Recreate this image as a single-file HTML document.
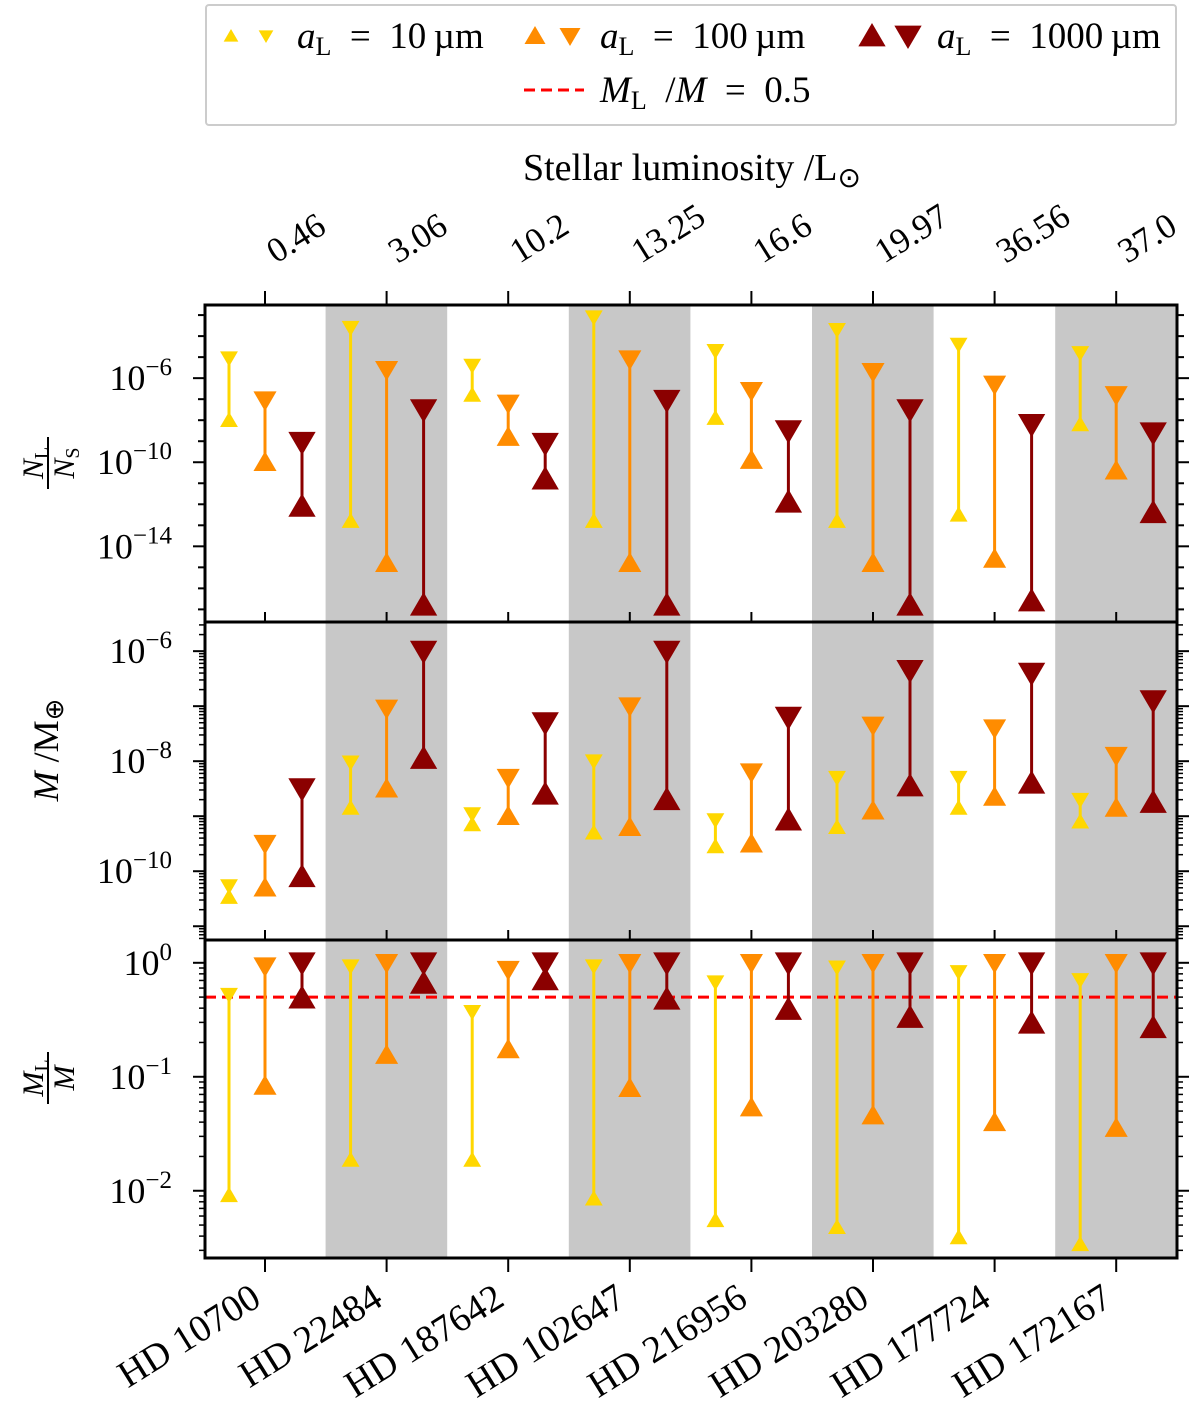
<!DOCTYPE html>
<html><head><meta charset="utf-8"><style>
body{margin:0;background:#fff}
svg{display:block;font-family:"Liberation Serif",serif}
</style></head><body>
<svg id="chart" width="1200" height="1412" viewBox="0 0 1200 1412" xmlns="http://www.w3.org/2000/svg"></svg>
<script>
const stars=["HD 10700","HD 22484","HD 187642","HD 102647","HD 216956","HD 203280","HD 177724","HD 172167"];
const lumLabels=["0.46","3.06","10.2","13.25","16.6","19.97","36.56","37.0"];
// log10 exponents: [lower, upper] per star
const nY_lo=[-8.0,-12.8,-6.8,-12.8,-7.9,-12.8,-12.5,-8.2];
const nY_hi=[-5.05,-3.6,-5.4,-3.1,-4.7,-3.7,-4.4,-4.8];
const nO_lo=[-10.0,-14.8,-8.8,-14.8,-9.9,-14.8,-14.6,-10.4];
const nO_hi=[-7.05,-5.6,-7.2,-5.1,-6.6,-5.7,-6.3,-6.8];
const nD_lo=[-12.1,-16.8,-10.8,-16.8,-11.9,-16.8,-16.6,-12.4];
const nD_hi=[-9.05,-7.5,-9.1,-7.05,-8.5,-7.5,-8.2,-8.6];
const mY_lo=[-10.47,-8.85,-9.15,-9.3,-9.55,-9.2,-8.85,-9.1];
const mY_hi=[-10.27,-8.02,-8.96,-8.0,-9.07,-8.3,-8.3,-8.7];
const mO_lo=[-10.3,-8.5,-9.0,-9.2,-9.5,-8.9,-8.65,-8.85];
const mO_hi=[-9.5,-7.04,-8.3,-7.0,-8.2,-7.35,-7.4,-7.9];
const mD_lo=[-10.1,-7.95,-8.6,-8.7,-9.07,-8.45,-8.4,-8.75];
const mD_hi=[-8.5,-6.0,-7.3,-6.0,-7.2,-6.35,-6.4,-6.9];
const fY_lo=[-2.04,-1.73,-1.73,-2.07,-2.26,-2.32,-2.41,-2.47];
const fY_hi=[-0.28,-0.03,-0.43,-0.03,-0.17,-0.04,-0.08,-0.15];
const fO_lo=[-1.08,-0.81,-0.76,-1.1,-1.27,-1.34,-1.4,-1.45];
const fO_hi=[-0.03,0,-0.06,0,0,0,0,0];
const fD_lo=[-0.31,-0.18,-0.15,-0.32,-0.41,-0.48,-0.53,-0.57];
const fD_hi=[0,0,0,0,0,0,0,0];
const threshold=0.5;

const S=document.getElementById('chart');const NS="http://www.w3.org/2000/svg";
function mk(t,a,p){const e=document.createElementNS(NS,t);for(const k in a)e.setAttribute(k,a[k]);(p||S).appendChild(e);return e;}
const X0=205,X1=1177;
const xc=i=>265+i*121.6;
const panels=[
 {t:305,b:622,top:-2.52,bot:-17.6,name:'number-ratio'},
 {t:622,b:940,top:-5.47,bot:-11.25,name:'mass'},
 {t:940,b:1258,top:0.2,bot:-2.59,name:'mass-fraction'}];
panels.forEach(p=>{p.y=e=>p.t+(p.top-e)/(p.top-p.bot)*(p.b-p.t);});
panels.forEach(p=>{for(let i=1;i<8;i+=2){const r=mk('rect',{x:xc(i)-61,y:p.t,width:121.6,height:p.b-p.t,fill:'#c8c8c8'});
}});
{const p=panels[2];const l=mk('line',{x1:X0,x2:X1,y1:p.y(Math.log10(threshold)),y2:p.y(Math.log10(threshold)),stroke:'#f00','stroke-width':3,'stroke-dasharray':'11,6'});
}
const cols=['#FFD700','#FF8C00','#8B0000'];const sz=[8.5,11,13];const off=[-36,0,37];const lw=[3,3,3];
const sets=[[[nY_lo,nY_hi],[nO_lo,nO_hi],[nD_lo,nD_hi]],[[mY_lo,mY_hi],[mO_lo,mO_hi],[mD_lo,mD_hi]],[[fY_lo,fY_hi],[fO_lo,fO_hi],[fD_lo,fD_hi]]];
sets.forEach((ps,pi)=>{const p=panels[pi];ps.forEach((s,si)=>{const [lo,hi]=s;const c=cols[si],r=sz[si];
for(let i=0;i<8;i++){const x=xc(i)+off[si];const y1=p.y(lo[i]),y2=p.y(hi[i]);
const g=mk('g',{});
mk('line',{x1:x,x2:x,y1:y1,y2:y2,stroke:c,'stroke-width':lw[si]},g);
mk('polygon',{points:`${x},${y1-r} ${x-r*1.05},${y1+r*0.8} ${x+r*1.05},${y1+r*0.8}`,fill:c},g);
mk('polygon',{points:`${x},${y2+r} ${x-r*1.05},${y2-r*0.8} ${x+r*1.05},${y2-r*0.8}`,fill:c},g);}});});
function tk(x1,y1,x2,y2,w){mk('line',{x1,y1,x2,y2,stroke:'#000','stroke-width':w||2});}
panels.forEach((p,pi)=>{const f=mk('rect',{x:X0,y:p.t,width:X1-X0,height:p.b-p.t,fill:'none',stroke:'#000','stroke-width':3});

const lo=Math.ceil(p.bot),hi=Math.floor(p.top);
for(let e=lo;e<=hi;e++){const y=p.y(e);const maj=pi==0?(e%4==2||e%4==-2):true;
 tk(X0,y,X0-(maj?12:7),y);tk(X1,y,X1+(maj?12:7),y);
 if(pi>0){for(let m=2;m<10;m++){const ym=p.y(e-1+Math.log10(m));if(ym>p.t&&ym<p.b){tk(X0,ym,X0-6,ym,1.5);tk(X1,ym,X1+6,ym,1.5);}}
  if(e==hi){for(let m=2;m<10;m++){const ym=p.y(e+Math.log10(m));if(ym>p.t&&ym<p.b){tk(X0,ym,X0-6,ym,1.5);tk(X1,ym,X1+6,ym,1.5);}}}}
 let show=pi==0?[-6,-10,-14].includes(e):(pi==1?[-6,-8,-10].includes(e):true);
 if(show){const t=mk('text',{x:172,y:y+12,'text-anchor':'end','font-size':36});
  
  t.innerHTML='10<tspan dy="-15" font-size="25">'+(e<0?'\u2212'+(-e):e)+'</tspan>';}}
for(let i=0;i<8;i++){tk(xc(i),p.t,xc(i),p.t-(pi==0?14:10));}
});
for(let i=0;i<8;i++){tk(xc(i),1258,xc(i),1272);
 const t=mk('text',{x:xc(i)-2,y:1304,'text-anchor':'end','font-size':38,transform:`rotate(-32 ${xc(i)-2} 1304)`});
 t.textContent=stars[i];
 const u=mk('text',{x:xc(i)+11,y:264,'text-anchor':'start','font-size':35,transform:`rotate(-32 ${xc(i)+11} 264)`});
 u.textContent=lumLabels[i];}
let t=mk('text',{x:692,y:180,'text-anchor':'middle','font-size':38});
t.innerHTML='Stellar luminosity /L<tspan dy="7" font-size="28">\u2299</tspan>';
function ylab(y,html,nm){const e=mk('text',{x:0,y:0,'text-anchor':'middle','font-size':36,transform:`translate(58 ${y}) rotate(-90)`});
e.innerHTML=html;return e;}
function frac(cx,cy,n,ns,d,ds,nm){const g=mk('g',{transform:`translate(${cx} ${cy}) rotate(-90)`});
mk('line',{x1:-26,x2:26,y1:0,y2:0,stroke:'#000','stroke-width':2},g);
const a=mk('text',{x:0,y:-5,'text-anchor':'middle','font-size':30,'font-style':'italic'},g);a.innerHTML=n+'<tspan font-size="20" font-style="normal" dy="5">'+ns+'</tspan>';
const b=mk('text',{x:0,y:26,'text-anchor':'middle','font-size':30,'font-style':'italic'},g);b.innerHTML=d+'<tspan font-size="20" font-style="normal" dy="5">'+ds+'</tspan>';}
frac(48,463,'N','L','N','S','y-axis-title-number-ratio');
frac(48,1078,'M','L','M','','y-axis-title-mass-fraction');
ylab(750,'<tspan font-style="italic">M</tspan>  /M<tspan font-size="26" dy="5">\u2295</tspan>','y-axis-title-mass');
const lg=mk('g',{});
mk('rect',{x:206,y:5,width:970,height:120,fill:'#fff',stroke:'#ccc','stroke-width':2,rx:3},lg);
const lsz=[7,10,13];
const le=[[231,266,'10',0,297],[535,570,'100',1,600],[872,908,'1000',2,937]];
le.forEach(([a,b,v,ci,tx])=>{const r=lsz[ci];const c=cols[ci];const y=36;
mk('polygon',{points:`${a},${y-r} ${a-r*1.05},${y+r*0.8} ${a+r*1.05},${y+r*0.8}`,fill:c},lg);
mk('polygon',{points:`${b},${y+r} ${b-r*1.05},${y-r*0.8} ${b+r*1.05},${y-r*0.8}`,fill:c},lg);
const t=mk('text',{x:tx,y:48,'font-size':37},lg);
t.innerHTML='<tspan font-style="italic">a</tspan><tspan font-size="26" dy="7">L</tspan><tspan dy="-7">\u2002=\u2002'+v+'\u2009\u00b5m</tspan>';});
mk('line',{x1:524,x2:584,y1:90,y2:90,stroke:'#f00','stroke-width':3,'stroke-dasharray':'11,6'},lg);
t=mk('text',{x:600,y:102,'font-size':37},lg);
t.innerHTML='<tspan font-style="italic">M</tspan><tspan font-size="26" dy="7">L</tspan><tspan dy="-7">\u2002/</tspan><tspan font-style="italic">M</tspan>\u2002=\u20020.5';
</script>
</body></html>
